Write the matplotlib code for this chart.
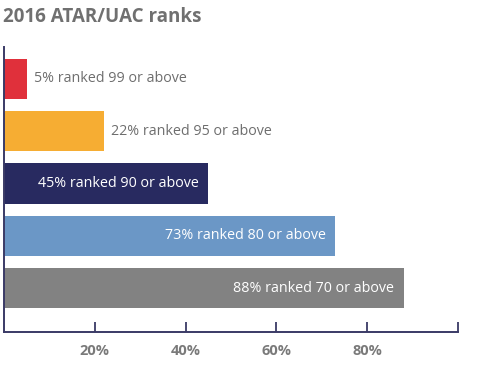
import numpy as np
import matplotlib.pyplot as plt

plt.rcParams['font.family'] = ['Open Sans', 'DejaVu Sans']

values = [5, 22, 45, 73, 88]
ranks = [99, 95, 90, 80, 70]
colors = ['#e0303b', '#f6ad33', '#282a60', '#6b97c6', '#828282']
inside = [False, False, True, True, True]
ticks = [20, 40, 60, 80, 100]
tick_labels = ['20%', '40%', '60%', '80%', '']

fig = plt.figure(figsize=(4.88, 3.67), dpi=100)
ax = fig.add_axes([0.0082, 0.0954, 0.9303, 0.7766])

y = np.arange(len(values))
ax.barh(y, values, height=0.77, color=colors)

for i, v in enumerate(values):
    label = f"{v}% ranked {ranks[i]} or above"
    if inside[i]:
        ax.annotate(label, (v, i), xytext=(-7, 0), textcoords='offset points',
                    ha='right', va='center', color='white', fontsize=10.3)
    else:
        ax.annotate(label, (v, i), xytext=(5, 0), textcoords='offset points',
                    ha='left', va='center', color='#6e6e6e', fontsize=10.3)

ax.set_xlim(0, 100)
ax.set_ylim(len(values) - 1 + 0.84, -0.61)
ax.set_xticks(ticks)
ax.set_xticklabels(tick_labels, fontsize=10.5, fontweight='bold', color='#7a7a7a')
ax.set_yticks([])
ax.tick_params(axis='x', direction='in', length=7.5, width=1.3, color='#3a3a66', pad=9)

for s in ['top', 'right']:
    ax.spines[s].set_visible(False)
for s in ['left', 'bottom']:
    ax.spines[s].set_color('#3a3a66')
    ax.spines[s].set_linewidth(1.4)

fig.text(0.006, 0.955, '2016 ATAR/UAC ranks', fontsize=13.5, fontweight='bold',
         color='#707070', ha='left', va='center')

fig.savefig('out.png', dpi=100)
